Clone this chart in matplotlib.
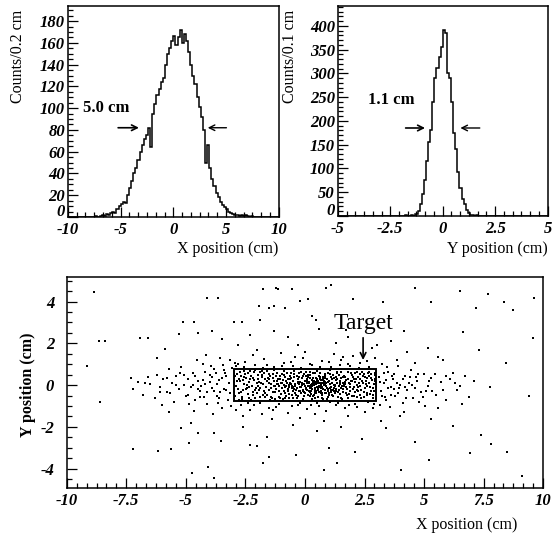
import numpy as np
import matplotlib
matplotlib.use("Agg")
from matplotlib import pyplot as plt
from matplotlib.ticker import AutoMinorLocator
from matplotlib.patches import Rectangle
from matplotlib.transforms import ScaledTranslation

plt.rcParams['font.family'] = ['Liberation Serif', 'DejaVu Serif']
plt.rcParams['axes.unicode_minus'] = False

# X position histogram, 0.2 cm bins from -10 to 10
x_counts = [0, 0, 0, 0, 0, 0, 0, 0, 0, 0,
            0, 0, 0, 1, 0, 1, 2, 1, 3, 2,
            4, 5, 4, 7, 10, 12, 14, 13, 20, 27,
            33, 40, 45, 52, 60, 66, 72, 75, 82, 64,
            95, 104, 112, 118, 124, 128, 140, 150, 155, 162,
            166, 158, 165, 172, 160, 168, 162, 152, 140, 130,
            122, 110, 101, 92, 80, 50, 66, 45, 35, 28,
            22, 18, 14, 11, 9, 7, 5, 4, 3, 2,
            2, 1, 2, 1, 2, 1, 0, 1, 0, 0,
            0, 0, 0, 0, 0, 0, 0, 0, 0, 0]

# Y position histogram, 0.1 cm bins from -5 to 5
y_counts = [0] * 30 + [0, 0, 1, 0, 0, 1, 0, 3, 10, 25,
                       45, 75, 115, 155, 180, 240, 290, 312, 335, 355,
                       392, 385, 300, 290, 240, 175, 140, 92, 58, 36,
                       25, 12, 5, 2, 1, 0, 1, 0, 0, 0] + [0] * 30

x_ticks_top = [-10, -5, 0, 5, 10]
y_ticks_left = [0, 20, 40, 60, 80, 100, 120, 140, 160, 180]
x_ticks_right = [-5, -2.5, 0, 2.5, 5]
y_ticks_right = [0, 50, 100, 150, 200, 250, 300, 350, 400]
x_ticks_bottom = [-10, -7.5, -5, -2.5, 0, 2.5, 5, 7.5, 10]
y_ticks_bottom = [-4, -2, 0, 2, 4]

# scatter: sparse outer points
outer_pts = [(-8.86, 4.44), (-8.64, 2.13), (-9.14, 0.93), (-8.61, -0.79), (-7.24, -3.08),
             (-6.94, 2.24), (-5.87, 1.72), (-5.29, 2.43), (-5.11, 3.01), (-4.12, 4.17),
             (-6.19, -3.14), (-5.64, -3.08), (-5.20, -2.04), (-4.88, -2.79), (-4.76, -4.20),
             (-4.06, -3.94), (-3.83, -4.46), (-4.50, -2.30), (-3.51, -2.66), (-1.93, 3.78),
             (-1.76, 4.59), (-1.23, 4.65), (-1.52, 3.69), (-2.63, 3.01), (-0.21, 4.01),
             (0.14, 4.10), (0.90, 4.65), (1.10, 4.81), (2.00, 4.10), (3.29, 3.99),
             (3.52, 3.33), (4.60, 4.65), (5.27, 3.99), (6.50, 4.50), (7.17, 3.69),
             (7.70, 4.34), (8.37, 3.99), (8.75, 3.60), (9.60, 4.15), (9.56, 2.24),
             (8.43, 1.05), (7.32, 1.67), (6.65, 2.56), (7.81, -2.82), (7.37, -2.37),
             (7.78, -0.08), (9.39, -0.53), (9.12, -4.33), (8.48, -3.19), (6.91, -3.27),
             (6.21, -1.98), (5.21, -3.56), (4.60, -2.73), (4.02, -4.04), (3.41, -2.03),
             (1.34, -3.75), (0.78, -4.04), (-0.36, -3.33), (-1.50, -3.43), (-1.77, -3.75),
             (-2.31, -2.86), (5.16, 1.77), (5.57, 1.34), (4.17, 2.61), (1.74, 2.66),
             (3.03, 1.93), (0.46, 3.14), (-3.64, 4.15), (-4.66, 3.01), (-1.15, 4.59),
             (-0.56, 4.62), (-1.32, 3.78), (-0.82, 3.67), (-6.60, 2.24), (-8.41, 2.13)]

# scatter: halo around the target
halo_pts = [(-7.3, 0.35), (-7.2, -0.2), (-7.0, 0.15), (-6.8, -0.45), (-6.6, 0.4), (-6.5, 0.05),
            (-6.3, -0.6), (-6.2, 0.5), (-6.1, -0.1), (-5.95, 0.3), (-5.8, -0.35), (-5.7, 0.75),
            (-5.6, 0.1), (-5.5, -0.8), (-5.4, 0.45), (-5.3, -0.2), (-5.2, 0.85), (-5.1, 0.0),
            (-5.0, -0.5), (-4.9, 0.3), (-4.8, -0.1), (-4.7, 0.6), (-4.6, -0.7), (-4.5, 0.2),
            (-4.4, -0.3), (-4.3, 1.0), (-4.2, 0.05), (-4.1, -0.9), (-4.0, 0.5), (-3.9, -0.15),
            (-3.8, 0.75), (-3.7, -0.5), (-3.6, 0.25), (-3.5, -1.1), (-3.45, 0.95), (-3.4, -0.2),
            (-3.3, 0.45), (-3.25, -0.7), (-3.2, 0.1), (-3.15, 1.2), (-4.85, -0.9), (-4.55, 1.2),
            (-4.25, -0.55), (-3.95, 0.9), (-3.65, -0.85), (-3.35, 0.6), (-5.25, 0.6), (-5.65, -0.4),
            (-6.0, -0.95), (-4.65, -1.25), (-3.85, -1.4), (-3.55, 1.3), (-4.15, 1.45), (-3.1, -1.0),
            (-3.05, 0.8),
            (3.1, 0.4), (3.2, -0.3), (3.3, 0.1), (3.4, -0.7), (3.5, 0.65), (3.6, -0.1), (3.7, 0.3),
            (3.8, -0.5), (3.9, 0.9), (4.0, 0.0), (4.1, -0.85), (4.2, 0.45), (4.3, -0.25), (4.45, 0.7),
            (4.55, -0.6), (4.7, 0.2), (4.85, -0.35), (5.0, 0.55), (5.15, -0.05), (5.3, 0.35),
            (5.5, -0.45), (5.7, 0.15), (5.9, -0.7), (6.1, 0.3), (6.4, -0.25), (6.7, 0.45),
            (6.9, -0.55), (3.25, 1.0), (3.55, -1.05), (3.85, 1.2), (4.15, -1.3), (4.6, 1.05),
            (5.05, -1.0), (3.15, -0.95), (3.45, 0.85), (3.75, -0.2), (4.35, 0.1), (4.8, -0.8),
            (5.6, -1.1), (6.2, 0.6),
            (-2.9, 0.9), (-2.5, 1.1), (-2.1, 0.95), (-1.7, 1.25), (-1.3, 0.85), (-0.9, 1.05),
            (-0.5, 0.9), (-0.1, 1.3), (0.3, 0.95), (0.7, 1.15), (1.1, 0.85), (1.5, 1.2),
            (1.9, 0.9), (2.3, 1.05), (2.7, 0.88), (-2.7, -0.95), (-2.3, -1.2), (-1.9, -0.85),
            (-1.5, -1.1), (-1.1, -0.9), (-0.7, -1.35), (-0.3, -0.95), (0.1, -1.15), (0.5, -0.85),
            (0.9, -1.25), (1.3, -0.95), (1.7, -1.1), (2.1, -0.88), (2.5, -1.3), (2.9, -0.9),
            (-2.2, 1.45), (-1.0, 1.55), (0.0, 1.6), (1.2, 1.5), (2.0, 1.4), (-2.6, -1.5),
            (-1.4, -1.6), (-0.2, -1.55), (0.8, -1.7), (1.8, -1.5),
            (-4.5, 2.5), (-3.9, 2.6), (-3.5, 2.2), (-2.8, 1.9), (-2.3, 2.4), (-2.0, 1.7),
            (-1.3, 2.6), (-0.7, 2.3), (-0.3, 1.9), (0.6, 2.7), (1.3, 2.0), (1.8, 2.3),
            (2.8, 1.8), (3.6, 2.1), (4.3, 1.6), (-4.8, -1.8), (-3.8, -2.3), (-2.6, -2.0),
            (-1.6, -2.5), (-0.5, -1.9), (0.5, -2.2), (1.5, -2.0), (2.4, -2.6), (3.2, -1.7),
            (4.0, -1.5), (-5.7, -1.3), (-6.2, 1.3), (5.8, 1.2), (5.3, -1.6), (6.6, -0.9),
            (-3.0, 3.0), (-1.9, 3.1), (0.3, 3.3), (1.0, -3.0), (-2.0, -2.9), (2.1, -3.2),
            (-3.3, -0.25), (-3.5, 0.35), (-3.7, 0.05), (-3.9, 0.4), (-4.1, -0.35), (-4.3, 0.25),
            (-4.5, -0.2), (-3.4, 0.7), (-3.6, -0.6), (-3.8, -0.3), (-4.0, 0.15), (-4.2, 0.65),
            (-4.4, -0.55), (-4.7, 0.0), (-4.9, -0.45), (-5.1, 0.5), (-5.4, 0.0), (-5.8, 0.35),
            (-6.1, -0.35), (-6.7, 0.1), (3.25, -0.5), (3.4, 0.25), (3.6, -0.45), (3.75, 0.55),
            (3.95, -0.15), (4.1, 0.3), (4.25, -0.6), (4.4, 0.4), (4.6, -0.15), (4.75, 0.55),
            (4.95, -0.55), (5.2, 0.2), (5.45, 0.55), (5.8, -0.25), (6.3, 0.1), (3.3, 0.6),
            (3.5, -0.15), (3.85, 0.1), (4.5, 0.0), (5.1, -0.3),
            (-2.8, 1.0), (-2.4, -0.85), (-1.6, 0.95), (-1.2, -1.05), (-0.6, 1.1), (-0.2, -0.85),
            (0.2, 1.0), (0.6, -1.0), (1.0, 1.1), (1.4, -0.85), (1.8, 1.0), (2.2, -1.05),
            (2.6, 1.15), (2.85, -1.1), (-0.4, 1.35), (0.4, -1.4), (1.6, 1.35), (-1.8, -1.4),
            (-2.9, -1.2), (2.95, 1.3),
            (-2.95, 1.05), (-2.55, 0.85), (-2.15, -0.95), (-1.75, 0.82), (-1.35, -1.2),
            (-0.95, 0.92), (-0.55, -1.0), (-0.15, 0.8), (0.25, -0.95), (0.65, 0.85),
            (1.05, -0.8), (1.45, 0.95), (1.85, -0.95), (2.25, 0.8), (2.65, -0.82),
            (-4.6, 0.45), (-4.35, -0.05), (-3.75, 0.6), (-3.55, -0.35), (-3.15, -0.4),
            (3.15, 0.15), (3.35, -0.55), (3.65, 0.45), (3.9, -0.4), (4.2, -0.1),
            (4.65, 0.4), (5.35, -0.3), (5.9, 0.45), (6.5, -0.05), (7.1, 0.2)]

# scatter: dense core inside the target
core_pts = [(-2.95, 0.42), (-2.81, -0.18), (-2.74, 0.61), (-2.66, -0.55), (-2.58, 0.07),
            (-2.47, 0.33), (-2.39, -0.41), (-2.31, 0.68), (-2.22, -0.04), (-2.15, 0.25),
            (-2.08, -0.63), (-1.99, 0.48), (-1.93, -0.22), (-1.85, 0.12), (-1.77, -0.49),
            (-1.70, 0.57), (-1.62, -0.09), (-1.55, 0.36), (-1.47, -0.70), (-1.41, 0.03),
            (-1.33, 0.52), (-1.26, -0.31), (-1.18, 0.19), (-1.11, -0.58), (-1.03, 0.44),
            (-0.96, -0.13), (-0.89, 0.66), (-0.82, -0.37), (-0.74, 0.09), (-0.67, -0.61),
            (-0.61, 0.29), (-0.53, -0.02), (-0.46, 0.55), (-0.38, -0.45), (-0.31, 0.14),
            (-0.24, -0.27), (-0.16, 0.62), (-0.09, -0.66), (-0.02, 0.21), (0.06, -0.12),
            (0.13, 0.47), (0.21, -0.53), (0.28, 0.05), (0.35, 0.34), (0.43, -0.29),
            (0.51, 0.69), (0.58, -0.07), (0.66, 0.26), (0.73, -0.62), (0.81, 0.11),
            (0.88, -0.39), (0.95, 0.58), (1.03, -0.16), (1.11, 0.38), (1.18, -0.51),
            (1.26, 0.02), (1.33, 0.63), (1.41, -0.25), (1.48, 0.17), (1.56, -0.68),
            (1.63, 0.45), (1.71, -0.08), (1.79, 0.31), (1.86, -0.44), (1.94, 0.56),
            (2.01, -0.20), (2.09, 0.13), (2.17, -0.57), (2.24, 0.40), (2.32, -0.03),
            (2.39, 0.64), (2.47, -0.33), (2.55, 0.22), (2.62, -0.47), (2.70, 0.08),
            (2.78, 0.51), (2.85, -0.14), (2.93, 0.28), (2.99, -0.60), (2.60, 0.35),
            (-2.88, -0.05), (-2.70, -0.32), (-2.52, 0.52), (-2.35, 0.15), (-2.18, -0.47),
            (-2.02, 0.08), (-1.88, 0.63), (-1.72, -0.28), (-1.58, 0.21), (-1.44, -0.15),
            (-1.29, 0.71), (-1.14, 0.04), (-0.99, -0.42), (-0.85, 0.37), (-0.71, -0.20),
            (-0.57, 0.60), (-0.43, 0.06), (-0.29, -0.52), (-0.14, 0.33), (0.01, -0.36),
            (0.15, 0.15), (0.29, -0.68), (0.44, 0.57), (0.59, -0.33), (0.74, 0.41),
            (0.89, -0.04), (1.04, 0.70), (1.19, -0.23), (1.34, 0.27), (1.49, -0.43),
            (1.64, 0.03), (1.79, -0.61), (1.94, 0.22), (2.09, 0.60), (2.24, -0.30),
            (2.39, 0.18), (2.54, -0.12), (2.69, 0.43), (2.84, -0.46), (2.97, 0.12),
            (-2.62, 0.24), (-2.44, -0.12), (-2.27, 0.44), (-2.11, -0.25), (-1.96, -0.05),
            (-1.81, 0.40), (-1.66, -0.58), (-1.51, 0.10), (-1.36, -0.35), (-1.22, 0.46),
            (-1.07, -0.02), (-0.92, 0.23), (-0.78, -0.52), (-0.63, 0.12), (-0.49, -0.30),
            (-0.35, 0.44), (-0.20, -0.08), (-0.06, 0.52), (0.09, -0.24), (0.23, 0.32),
            (0.38, -0.46), (0.52, 0.18), (0.67, -0.15), (0.82, 0.52), (0.97, -0.55),
            (1.12, 0.08), (1.27, -0.38), (1.42, 0.49), (1.57, -0.02), (1.72, 0.24),
            (1.87, -0.27), (2.02, 0.41), (2.17, 0.02), (2.32, -0.45), (2.47, 0.55),
            (2.62, -0.02), (2.77, -0.30), (2.92, 0.60), (-2.98, -0.35), (-2.75, 0.28),
            (-1.20, -0.18), (-0.95, 0.12), (-0.70, -0.26), (-0.50, 0.20), (-0.32, -0.14),
            (-0.12, 0.02), (0.05, -0.20), (0.18, 0.10), (0.31, -0.02), (0.42, -0.22),
            (0.55, 0.08), (0.68, -0.30), (0.79, 0.20), (0.92, -0.12), (1.05, 0.04),
            (1.20, -0.28), (1.36, 0.12), (1.52, -0.15), (1.70, 0.06), (1.90, -0.10),
            (-0.85, -0.08), (-0.60, 0.34), (-0.40, -0.40), (-0.22, 0.16), (0.00, -0.02),
            (0.12, 0.38), (0.25, -0.30), (0.37, 0.22), (0.50, -0.10), (0.62, 0.30),
            (0.75, -0.18), (0.86, 0.02), (0.99, -0.38), (1.13, 0.28), (1.28, -0.06),
            (1.45, 0.20), (1.60, -0.32), (1.82, 0.30), (2.05, -0.08), (2.30, 0.28),
            (0.20, -0.14), (0.45, 0.05), (0.70, -0.08), (0.33, -0.50), (0.58, 0.45),
            (0.10, 0.28), (0.85, -0.25), (-0.05, -0.35), (0.40, 0.10), (0.65, 0.12),
            (-2.92, -0.52), (-2.84, 0.18), (-2.77, -0.70), (-2.69, 0.46), (-2.61, -0.25),
            (-2.54, 0.68), (-2.45, 0.02), (-2.37, -0.60), (-2.29, 0.30), (-2.20, -0.35),
            (-2.13, 0.62), (-2.05, -0.12), (-1.97, 0.28), (-1.90, -0.55), (-1.82, 0.50),
            (-1.75, 0.05), (-1.67, -0.38), (-1.60, 0.66), (-1.52, -0.22), (-1.45, 0.42),
            (-1.38, -0.60), (-1.31, 0.22), (-1.24, -0.05), (-1.16, 0.58), (-1.09, -0.28),
            (-1.01, 0.10), (-0.94, -0.68), (-0.87, 0.48), (-0.80, -0.02), (-0.72, 0.30),
            (-0.65, -0.42), (-0.58, 0.05), (-0.51, -0.62), (-0.44, 0.38), (-0.36, -0.22),
            (-0.27, 0.58), (-0.18, -0.40), (-0.11, 0.12), (-0.04, -0.52), (0.03, 0.42),
            (0.11, -0.05), (0.19, 0.62), (0.26, -0.42), (0.33, 0.10), (0.41, -0.62),
            (0.48, 0.35), (0.56, -0.22), (0.63, 0.58), (0.71, -0.45), (0.78, 0.02),
            (0.84, 0.36), (0.93, -0.66), (1.00, 0.22), (1.08, -0.32), (1.16, 0.50),
            (1.23, -0.12), (1.31, 0.38), (1.38, -0.58), (1.46, 0.06), (1.53, 0.62),
            (1.61, -0.18), (1.68, 0.40), (1.76, -0.48), (1.84, 0.12), (1.91, -0.30),
            (1.99, 0.48), (2.06, -0.50), (2.14, 0.28), (2.22, -0.10), (2.29, 0.52),
            (2.37, -0.62), (2.44, 0.08), (2.52, 0.40), (2.59, -0.36), (2.67, 0.62),
            (2.75, -0.08), (2.82, 0.25), (2.90, -0.28), (2.96, 0.50), (2.88, 0.05),
            (-0.90, -0.30), (-0.65, 0.00), (-0.45, -0.18), (-0.25, 0.05), (-0.08, -0.22),
            (0.08, 0.08), (0.22, -0.35), (0.36, 0.00), (0.48, -0.30), (0.60, -0.02),
            (0.72, 0.10), (0.83, -0.40), (0.95, 0.15), (1.08, -0.22), (1.22, 0.00),
            (1.40, -0.35), (1.58, 0.10), (1.76, -0.20), (1.98, 0.18), (2.20, -0.25),
            (-1.50, 0.30), (-1.30, -0.05), (-1.05, 0.30), (-0.80, 0.18), (-0.55, -0.45),
            (-0.30, 0.28), (-0.15, -0.10), (0.02, 0.18), (0.16, -0.28), (0.28, 0.25),
            (0.40, -0.12), (0.53, 0.22), (0.66, -0.38), (0.77, 0.32), (0.90, -0.05),
            (1.02, -0.45), (1.15, 0.12), (1.32, -0.18), (1.50, 0.32), (1.65, -0.05),
            (-2.97, 0.15), (-2.86, 0.55), (-2.79, -0.40), (-2.71, 0.20), (-2.63, -0.68),
            (-2.56, 0.40), (-2.49, -0.20), (-2.41, 0.58), (-2.33, -0.10), (-2.25, -0.70),
            (-2.17, 0.36), (-2.10, 0.70), (-2.03, -0.38), (-1.95, 0.15), (-1.87, -0.15),
            (-1.79, 0.68), (-1.69, 0.30), (-1.61, -0.45), (-1.53, 0.55), (-1.43, -0.55),
            (-1.35, 0.35), (-1.27, -0.68), (-1.19, 0.05), (-1.12, 0.30), (-1.04, -0.62),
            (-0.97, 0.52), (-0.90, 0.00), (-0.83, -0.60), (-0.76, 0.58), (-0.69, -0.08),
            (-0.62, 0.45), (-0.55, -0.15), (-0.47, 0.68), (-0.40, -0.05), (-0.33, -0.60),
            (-0.26, 0.40), (-0.19, -0.30), (-0.10, 0.45), (-0.03, 0.05), (0.04, 0.62),
            (0.14, -0.45), (0.21, 0.50), (0.27, -0.10), (0.34, 0.60), (0.40, -0.38),
            (0.47, 0.15), (0.54, -0.55), (0.61, 0.40), (0.69, 0.00), (0.76, -0.68),
            (0.83, 0.45), (0.91, 0.28), (0.98, -0.20), (1.06, 0.55), (1.13, -0.48),
            (1.21, 0.35), (1.29, -0.30), (1.36, 0.60), (1.44, -0.05), (1.51, -0.60),
            (1.59, 0.40), (1.66, 0.15), (1.74, -0.38), (1.81, 0.62), (1.89, 0.05),
            (1.97, -0.50), (2.04, 0.30), (2.12, -0.35), (2.19, 0.65), (2.27, 0.10),
            (2.34, -0.22), (2.42, 0.45), (2.49, -0.55), (2.57, 0.05), (2.64, 0.58),
            (2.72, -0.42), (2.79, 0.35), (2.87, -0.62), (2.94, 0.20), (2.99, -0.10),
            (-0.50, -0.10), (-0.30, 0.10), (-0.10, -0.30), (0.10, 0.20), (0.30, -0.20),
            (0.50, 0.30), (0.70, -0.40), (0.90, 0.10), (1.10, -0.10), (1.30, 0.25),
            (0.15, -0.05), (0.35, 0.18), (0.55, -0.15), (0.75, 0.25), (0.95, -0.30),
            (0.25, 0.00), (0.45, -0.40), (0.65, -0.10), (0.85, 0.15), (1.05, -0.15)]

target_box = (-3.0, -0.75, 6.0, 1.5)  # x, y, width, height in cm


def style_axes(ax, xticks, xlabels, yticks, ypad=2):
    for s in ax.spines.values():
        s.set_linewidth(1.1)
    ax.set_xticks(xticks, xlabels, fontstyle='italic', fontweight='bold', fontsize=12)
    ax.set_yticks(yticks, [str(v) for v in yticks], fontstyle='italic',
                  fontweight='bold', fontsize=12)
    ax.tick_params(which='both', direction='in', top=False, right=False, width=0.9)
    ax.tick_params(axis='x', pad=3.5)
    ax.tick_params(axis='y', pad=ypad)
    ax.tick_params(which='major', length=7)
    ax.tick_params(which='minor', length=3.5)


def lift_zero_label(ax, fig):
    # nudge the "0" on the y axis up so it clears the first x label
    lab = ax.get_yticklabels()[0]
    lab.set_transform(lab.get_transform() + ScaledTranslation(0, 5 / 72, fig.dpi_scale_trans))


fig = plt.figure(figsize=(5.52, 5.37), dpi=100)
ax1 = fig.add_axes([0.123, 0.596, 0.382, 0.393])
ax2 = fig.add_axes([0.612, 0.598, 0.380, 0.391])
ax3 = fig.add_axes([0.121, 0.091, 0.863, 0.393])

# top-left: X histogram
x_edges = np.linspace(-10, 10, len(x_counts) + 1)
ax1.stairs(x_counts, x_edges, color='black', linewidth=1.1)
ax1.set_xlim(-10, 10)
ax1.set_ylim(0, 194)
style_axes(ax1, x_ticks_top, [str(v) for v in x_ticks_top], y_ticks_left)
ax1.xaxis.set_minor_locator(AutoMinorLocator(6))
ax1.yaxis.set_minor_locator(AutoMinorLocator(4))
lift_zero_label(ax1, fig)
ax1.text(-8.6, 100, '5.0 cm', fontsize=12, fontweight='bold', va='center', ha='left')
ax1.annotate('', xy=(-3.0, 82), xytext=(-5.5, 82),
             arrowprops=dict(arrowstyle='->', color='black', lw=1.2))
ax1.annotate('', xy=(3.0, 82), xytext=(5.3, 82),
             arrowprops=dict(arrowstyle='->', color='black', lw=1.0))

# top-right: Y histogram
y_edges = np.linspace(-5, 5, len(y_counts) + 1)
ax2.stairs(y_counts, y_edges, color='black', linewidth=1.1)
ax2.set_xlim(-5, 5)
ax2.set_ylim(0, 442)
style_axes(ax2, x_ticks_right, ['-5', '-2.5', '0', '2.5', '5'], y_ticks_right)
ax2.xaxis.set_minor_locator(AutoMinorLocator(6))
ax2.yaxis.set_minor_locator(AutoMinorLocator(5))
lift_zero_label(ax2, fig)
ax2.text(-3.57, 244, '1.1 cm', fontsize=12, fontweight='bold', va='center', ha='left')
ax2.annotate('', xy=(-0.71, 185), xytext=(-1.9, 185),
             arrowprops=dict(arrowstyle='->', color='black', lw=1.2))
ax2.annotate('', xy=(0.71, 185), xytext=(1.9, 185),
             arrowprops=dict(arrowstyle='->', color='black', lw=1.0))

# bottom: X-Y scatter
pts = np.array(outer_pts + halo_pts + core_pts)
ax3.scatter(pts[:, 0], pts[:, 1], s=3.5, marker='s', color='black', linewidths=0)
ax3.add_patch(Rectangle(target_box[:2], target_box[2], target_box[3],
                        fill=False, edgecolor='black', linewidth=1.4))
ax3.set_xlim(-10, 10)
ax3.set_ylim(-4.93, 5.17)
style_axes(ax3, x_ticks_bottom,
           ['-10', '-7.5', '-5', '-2.5', '0', '2.5', '5', '7.5', '10'],
           y_ticks_bottom, ypad=9)
ax3.xaxis.set_minor_locator(AutoMinorLocator(6))
ax3.yaxis.set_minor_locator(AutoMinorLocator(4))
ax3.text(2.46, 2.97, 'Target', fontsize=17, ha='center', va='center')
ax3.annotate('', xy=(2.44, 1.07), xytext=(2.44, 2.4),
             arrowprops=dict(arrowstyle='->', color='black', lw=1.2))

# axis titles
fig.text(0.033, 0.981, 'Counts/0.2 cm', rotation=90, ha='center', va='top', fontsize=11.5)
fig.text(0.525, 0.981, 'Counts/0.1 cm', rotation=90, ha='center', va='top', fontsize=11.5)
fig.text(0.504, 0.536, 'X position (cm)', ha='right', va='center', fontsize=11.5)
fig.text(0.993, 0.536, 'Y position (cm)', ha='right', va='center', fontsize=11.5)
fig.text(0.938, 0.022, 'X position (cm)', ha='right', va='center', fontsize=11.5)
fig.text(0.051, 0.283, 'Y position (cm)', rotation=90, ha='center', va='center',
         fontsize=11.5, fontweight='bold')

fig.savefig('out.png', dpi=100)
